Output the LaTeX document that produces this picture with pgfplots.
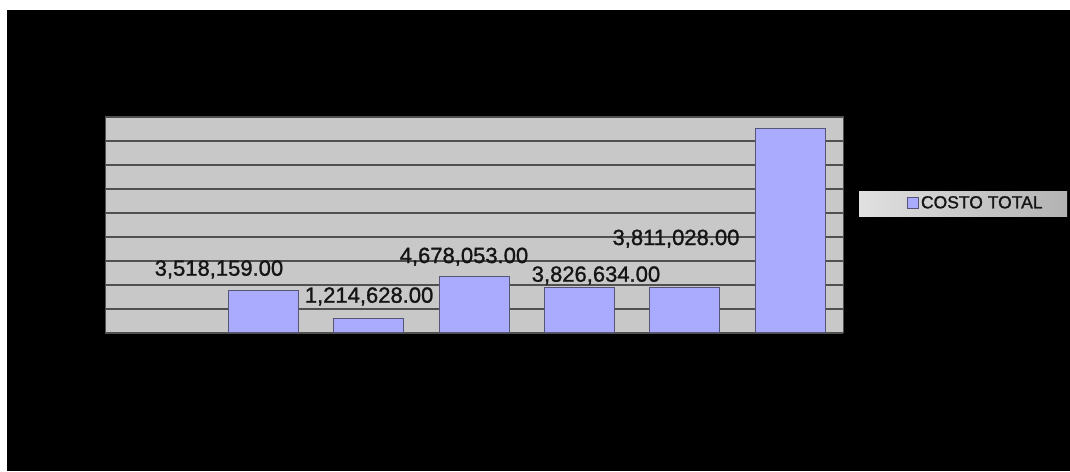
\documentclass[border=0pt]{standalone}
\usepackage{pgfplots}
\pgfplotsset{compat=1.18}
\usepackage{fontspec}
\setmainfont{Liberation Sans}
\newfontfamily\heavy[FakeBold=1.2]{Liberation Sans}
\definecolor{barfill}{RGB}{170,170,255}
\definecolor{bardraw}{RGB}{85,85,120}
\definecolor{plotbg}{RGB}{200,200,200}
\definecolor{gridc}{RGB}{80,80,80}
\definecolor{labc}{RGB}{20,20,20}
\begin{document}
\begin{tikzpicture}[x=1pt,y=1pt]
\useasboundingbox (0,0) rectangle (1070,471);
\fill[white] (0,0) rectangle (1070,471);
\fill[black] (7,0) rectangle (1070,461);
% legend background box
\shade[left color=black!12, middle color=white, right color=black!30] (859,254) rectangle (1067,279);
\begin{axis}[
  at={(105pt,138pt)}, anchor=south west,
  scale only axis, width=738pt, height=216pt,
  xmin=-0.5, xmax=6.5, ymin=0, ymax=18000000,
  xtick=\empty,
  ytick={0,2000000,...,18000000}, yticklabels={},
  major tick length=0pt,
  ymajorgrids, grid style={gridc, line width=1.2pt},
  axis background/.style={fill=plotbg},
  axis line style={gridc, line width=1pt},
  ybar, bar width=0.664, bar shift=0pt,
  legend style={at={(1.0867,0.6019)}, anchor=west, draw=none, fill=none,
    font=\heavy\fontsize{17.5}{17.5}\selectfont, text=labc, inner sep=0pt,
    legend cell align=left},
  legend image code/.code={\draw[#1, line width=0.8pt] (0pt,-5.5pt) rectangle (11pt,5.5pt);},
  clip=false,
]
\addplot[fill=barfill, draw=bardraw, line width=1pt] coordinates {
  (1,3518159) (2,1214628) (3,4678053) (4,3826634) (5,3811028) (6,17048502)
};
\addlegendentry{COSTO TOTAL}
\begin{scope}[every node/.style={anchor=base, font=\heavy\fontsize{22}{22}\selectfont, text=labc, inner sep=0pt}]
\node at (axis cs:0.581,4775000) {3,518,159.00};
\node at (axis cs:2.005,2525000) {1,214,628.00};
\node at (axis cs:2.905,5833000) {4,678,053.00};
\node at (axis cs:4.157,4275000) {3,826,634.00};
\node at (axis cs:4.916,7333000) {3,811,028.00};
\end{scope}
\end{axis}
\end{tikzpicture}
\end{document}
